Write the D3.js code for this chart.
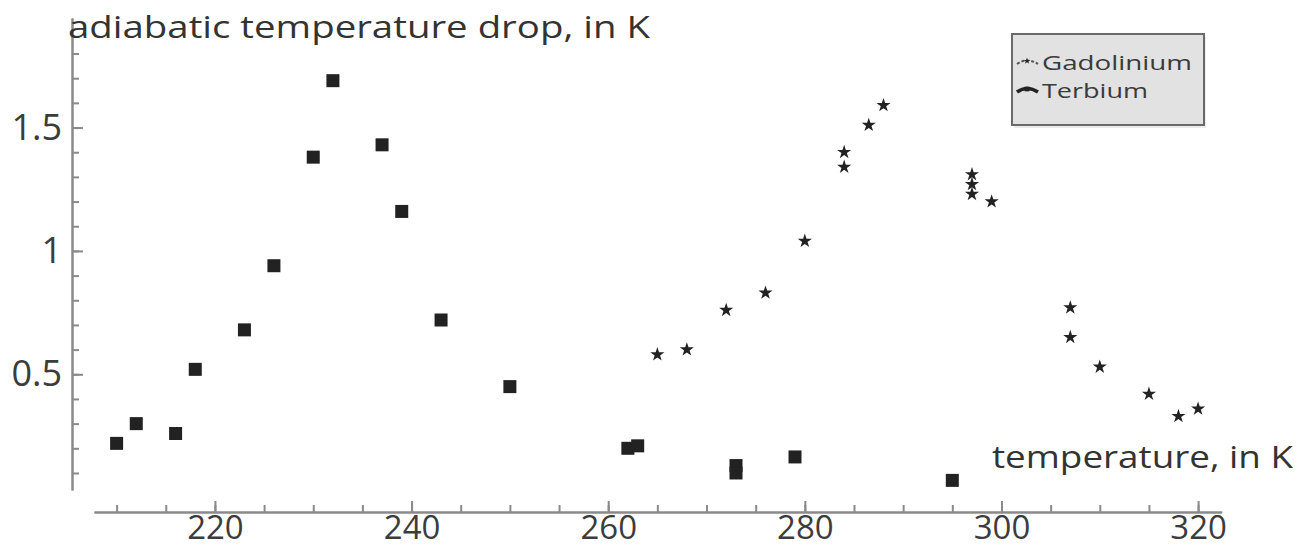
<!DOCTYPE html>
<html>
<head>
<meta charset="utf-8">
<script src="https://cdnjs.cloudflare.com/ajax/libs/d3/7.8.5/d3.min.js"></script>
<style>
  body { margin: 0; background: #fff; }
  svg { display: block; }
  .axis path, .axis line { stroke: #8a8a8a; stroke-width: 2; }
  .axis text { fill: #3c3c3c; font-family: "Open Sans", sans-serif; }
</style>
</head>
<body>
<div id="chart"></div>
<script>
// Terbium (squares)
var terbiumTemp = [210, 212, 216, 218, 223, 226, 230, 232, 237, 239, 243, 250, 262, 263, 273, 273, 279, 295];
var terbiumDrop = [0.22, 0.30, 0.26, 0.52, 0.68, 0.94, 1.38, 1.69, 1.43, 1.16, 0.72, 0.45, 0.20, 0.21, 0.13, 0.10, 0.165, 0.07];
// Gadolinium (stars)
var gadoTemp = [265, 268, 272, 276, 280, 284, 284, 286.5, 288, 297, 297, 297, 299, 307, 307, 310, 315, 318, 320];
var gadoDrop = [0.58, 0.60, 0.76, 0.83, 1.04, 1.40, 1.34, 1.51, 1.59, 1.31, 1.27, 1.23, 1.20, 0.77, 0.65, 0.53, 0.42, 0.33, 0.36];

var xTicks = [220, 240, 260, 280, 300, 320];
var yTicks = [0.5, 1, 1.5];
var seriesNames = ["Gadolinium", "Terbium"];

var w = 1307, h = 550;

var svg = d3.select('#chart').append('svg')
    .attr('width', w)
    .attr('height', h);

var x = d3.scaleLinear().domain([207.7, 322.4]).range([94, 1221.7]);
var y = d3.scaleLinear().domain([0.031, 1.944]).range([490, 18]);

var xAxisY = 512,
    yAxisX = 72;

// minor x ticks
svg.append('g').attr('class', 'axis')
    .attr('transform', 'translate(0,' + xAxisY + ')')
    .call(d3.axisBottom(x).tickValues(d3.range(210, 321, 5)).tickSize(-7).tickSizeOuter(0).tickFormat(''));

// major x ticks + labels
svg.append('g').attr('class', 'axis')
    .attr('transform', 'translate(0,' + xAxisY + ')')
    .call(d3.axisBottom(x).tickValues(xTicks).tickSize(-11).tickSizeOuter(0).tickPadding(4))
    .selectAll('text').attr('font-size', 33);

// minor y ticks
svg.append('g').attr('class', 'axis')
    .attr('transform', 'translate(' + yAxisX + ',0)')
    .call(d3.axisLeft(y).tickValues(d3.range(1, 19).map((d) => d / 10)).tickSize(-7).tickSizeOuter(0).tickFormat(''));

// major y ticks + labels
svg.append('g').attr('class', 'axis')
    .attr('transform', 'translate(' + yAxisX + ',0)')
    .call(d3.axisLeft(y).tickValues(yTicks).tickSize(-11).tickSizeOuter(0).tickPadding(10).tickFormat(d3.format('')))
    .selectAll('text').attr('font-size', 36);

// axis labels
svg.append('text')
    .attr('x', 68).attr('y', 38)
    .attr('font-family', '"Open Sans", sans-serif')
    .attr('font-size', 31)
    .attr('fill', '#333')
    .attr('textLength', 582).attr('lengthAdjust', 'spacingAndGlyphs')
    .text('adiabatic temperature drop, in K');

svg.append('text')
    .attr('x', 992).attr('y', 468)
    .attr('font-family', '"Open Sans", sans-serif')
    .attr('font-size', 31)
    .attr('fill', '#333')
    .attr('textLength', 301).attr('lengthAdjust', 'spacingAndGlyphs')
    .text('temperature, in K');

// points
var sq = 13;
svg.append('g').selectAll('rect')
    .data(terbiumTemp)
    .enter().append('rect')
    .attr('x', (d) => x(d) - sq / 2)
    .attr('y', (d, i) => y(terbiumDrop[i]) - sq / 2)
    .attr('width', sq)
    .attr('height', sq)
    .attr('fill', '#222');

var star = d3.symbol().type(d3.symbolStar).size(62);
svg.append('g').selectAll('path')
    .data(gadoTemp)
    .enter().append('path')
    .attr('d', star)
    .attr('transform', (d, i) => 'translate(' + x(d) + ',' + y(gadoDrop[i]) + ')')
    .attr('fill', '#222');

// legend
var lg = svg.append('g').attr('transform', 'translate(1012,34)');
lg.append('rect')
    .attr('x', 2).attr('y', 3).attr('width', 192).attr('height', 91)
    .attr('fill', '#ececec');
lg.append('rect')
    .attr('width', 192).attr('height', 91)
    .attr('fill', '#e2e2e2')
    .attr('stroke', '#6a6a6a')
    .attr('stroke-width', 2);

var items = lg.selectAll('g.item')
    .data(seriesNames)
    .enter().append('g')
    .attr('class', 'item')
    .attr('transform', (d, i) => 'translate(0,' + (36 + i * 28) + ')');

items.append('path')
    .attr('d', 'M5,-6 Q15,-13 26,-6')
    .attr('fill', 'none')
    .attr('stroke', (d, i) => i == 0 ? '#555' : '#222')
    .attr('stroke-width', (d, i) => i == 0 ? 2 : 3.5)
    .attr('stroke-dasharray', (d, i) => i == 0 ? '3,2' : null);
items.append('path')
    .attr('d', (d, i) => d3.symbol().type(i == 0 ? d3.symbolStar : d3.symbolSquare).size(i == 0 ? 14 : 22)())
    .attr('transform', 'translate(15,-9)')
    .attr('fill', '#222');
items.append('text')
    .attr('x', 30).attr('y', 0)
    .attr('font-family', '"Open Sans", sans-serif')
    .attr('font-size', 20)
    .attr('fill', '#3a3a3a')
    .attr('textLength', (d, i) => i == 0 ? 150 : 106)
    .attr('lengthAdjust', 'spacingAndGlyphs')
    .text((d) => d);
</script>
</body>
</html>
